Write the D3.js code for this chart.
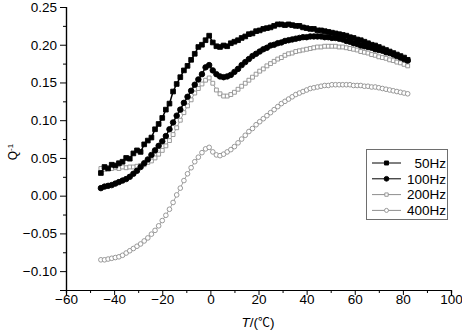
<!DOCTYPE html>
<html><head><meta charset="utf-8">
<script src="https://cdn.jsdelivr.net/npm/d3@7/dist/d3.min.js"></script>
<style>body{margin:0;background:#fff}svg{display:block}text{font-family:"Liberation Sans",Arial,sans-serif}</style>
</head><body><div id="chart"></div>
<script>
const temps = [-45.5,-44,-42.5,-41,-39.5,-38,-36.5,-35,-33.5,-32,-30.5,-29,-27.5,-26,-24.5,-23,-21.5,-20,-18.5,-17,-15.5,-14,-12.5,-11,-9.5,-8,-6.5,-5,-3.5,-2,-0.5,1,2.5,4,5.5,7,8.5,10,11.5,13,14.5,16,17.5,19,20.5,22,23.5,25,26.5,28,29.5,31,32.5,34,35.5,37,38.5,40,41.5,43,44.5,46,47.5,49,50.5,52,53.5,55,56.5,58,59.5,61,62.5,64,65.5,67,68.5,70,71.5,73,74.5,76,77.5,79,80.5,82];
const q50 = [0.030,0.038,0.036,0.041,0.040,0.043,0.045,0.050,0.049,0.056,0.060,0.058,0.068,0.073,0.077,0.088,0.095,0.103,0.114,0.122,0.138,0.148,0.157,0.166,0.172,0.180,0.188,0.197,0.200,0.206,0.212,0.203,0.198,0.197,0.199,0.198,0.202,0.204,0.206,0.209,0.211,0.214,0.215,0.218,0.219,0.221,0.222,0.223,0.225,0.227,0.227,0.226,0.227,0.226,0.225,0.225,0.223,0.222,0.221,0.221,0.219,0.219,0.218,0.217,0.216,0.215,0.214,0.213,0.212,0.210,0.209,0.207,0.206,0.204,0.202,0.200,0.199,0.197,0.195,0.193,0.191,0.189,0.187,0.185,0.183,0.180];
const q100 = [0.010,0.012,0.013,0.014,0.016,0.018,0.020,0.022,0.025,0.029,0.033,0.038,0.043,0.048,0.054,0.060,0.066,0.072,0.079,0.088,0.097,0.106,0.114,0.123,0.131,0.139,0.147,0.154,0.161,0.170,0.173,0.166,0.161,0.158,0.157,0.158,0.160,0.164,0.168,0.173,0.177,0.181,0.185,0.188,0.191,0.194,0.196,0.199,0.200,0.202,0.203,0.205,0.206,0.207,0.208,0.209,0.210,0.210,0.211,0.211,0.211,0.211,0.210,0.210,0.209,0.209,0.208,0.207,0.205,0.204,0.202,0.201,0.199,0.198,0.197,0.196,0.194,0.193,0.192,0.190,0.189,0.187,0.185,0.183,0.181,0.179];
const q200 = [0.036,0.035,0.037,0.036,0.037,0.036,0.038,0.037,0.038,0.038,0.039,0.040,0.041,0.044,0.046,0.050,0.055,0.060,0.066,0.073,0.081,0.090,0.100,0.110,0.119,0.127,0.136,0.142,0.148,0.153,0.156,0.149,0.140,0.135,0.132,0.132,0.134,0.137,0.141,0.145,0.149,0.153,0.157,0.161,0.165,0.168,0.172,0.175,0.178,0.181,0.183,0.186,0.188,0.189,0.191,0.192,0.193,0.194,0.195,0.196,0.197,0.197,0.198,0.198,0.198,0.198,0.197,0.197,0.196,0.195,0.194,0.193,0.191,0.190,0.189,0.187,0.186,0.184,0.183,0.182,0.180,0.179,0.177,0.176,0.174,0.172];
const q400 = [-0.085,-0.085,-0.084,-0.083,-0.082,-0.081,-0.079,-0.076,-0.073,-0.070,-0.067,-0.064,-0.060,-0.056,-0.051,-0.046,-0.040,-0.033,-0.026,-0.018,-0.009,0.001,0.010,0.020,0.029,0.037,0.045,0.051,0.057,0.062,0.064,0.058,0.054,0.053,0.055,0.058,0.061,0.065,0.070,0.075,0.080,0.085,0.089,0.094,0.098,0.102,0.106,0.110,0.114,0.118,0.122,0.125,0.128,0.131,0.134,0.136,0.138,0.140,0.142,0.143,0.144,0.145,0.146,0.146,0.147,0.147,0.147,0.147,0.147,0.147,0.146,0.146,0.146,0.145,0.145,0.144,0.144,0.143,0.142,0.141,0.140,0.139,0.138,0.137,0.136,0.135];
const seriesNames = ["50Hz","100Hz","200Hz","400Hz"];
const xTicks = [-60,-40,-20,0,20,40,60,80,100];
const xMinor = [-50,-30,-10,10,30,50,70,90];
const yTicks = [-0.10,-0.05,0.00,0.05,0.10,0.15,0.20,0.25];
const yMinor = [-0.125,-0.075,-0.025,0.025,0.075,0.125,0.175,0.225];

const W = 462, H = 330;
const svg = d3.select("#chart").append("svg").attr("width", W).attr("height", H);
const x = d3.scaleLinear().domain([-60, 100]).range([66, 451]);
const y = d3.scaleLinear().domain([-0.125, 0.25]).range([290, 7]);

const styles = [
  {shape: d3.symbolSquare, size: 22, fill: "#000", stroke: "#000", line: "#000"},
  {shape: d3.symbolCircle, size: 24, fill: "#000", stroke: "#000", line: "#000"},
  {shape: d3.symbolSquare, size: 15, fill: "#fff", stroke: "#8e8e8e", line: "#8e8e8e"},
  {shape: d3.symbolCircle, size: 17, fill: "#fff", stroke: "#8e8e8e", line: "#8e8e8e"}
];
const allQ = [q50, q100, q200, q400];

// axes
const gx = svg.append("g").attr("transform", "translate(0,290)");
gx.call(d3.axisBottom(x).tickValues(xTicks).tickSize(5).tickFormat(d => d3.format("d")(d)));
gx.append("g").call(d3.axisBottom(x).tickValues(xMinor).tickSize(3).tickFormat(""));
const gy = svg.append("g").attr("transform", "translate(66,0)");
gy.call(d3.axisLeft(y).tickValues(yTicks).tickSize(6).tickPadding(3).tickFormat(d3.format(".2f")));
gy.append("g").call(d3.axisLeft(y).tickValues(yMinor).tickSize(3).tickFormat(""));
svg.selectAll(".domain").attr("stroke", "#000").attr("stroke-width", 1.2);
svg.selectAll(".tick line").attr("stroke", "#000");
gx.selectAll("text").attr("y", 4).attr("dy", "0.71em").style("font-size", "13.5px").attr("fill", "#000");
gy.selectAll("text").style("font-size", "13.5px").attr("fill", "#000");

// series (draw lower first so 50Hz on top)
const order = [3, 2, 1, 0];
order.forEach(si => {
  const st = styles[si];
  const pts = temps.map((t, i) => [t, allQ[si][i]]);
  const g = svg.append("g");
  g.append("path").datum(pts)
    .attr("d", d3.line().x(d => x(d[0])).y(d => y(d[1])))
    .attr("fill", "none").attr("stroke", st.line).attr("stroke-width", si < 2 ? 1.5 : 0.8);
  g.selectAll("path.m").data(pts).join("path").attr("class", "m")
    .attr("transform", d => `translate(${x(d[0])},${y(d[1])})`)
    .attr("d", d3.symbol().type(st.shape).size(st.size))
    .attr("fill", st.fill).attr("stroke", st.stroke).attr("stroke-width", 0.9);
});

// legend
const lg = svg.append("g");
lg.append("rect").attr("x", 366.5).attr("y", 149.5).attr("width", 81).attr("height", 70)
  .attr("fill", "#fff").attr("stroke", "#6e6e6e").attr("stroke-width", 1);
seriesNames.forEach((name, i) => {
  const st = styles[i];
  const cy = 163 + i * 15.8;
  lg.append("line").attr("x1", 372).attr("x2", 401).attr("y1", cy).attr("y2", cy)
    .attr("stroke", st.line).attr("stroke-width", 1);
  lg.append("path").attr("transform", `translate(386.5,${cy})`)
    .attr("d", d3.symbol().type(st.shape).size(st.size * 0.75))
    .attr("fill", st.fill).attr("stroke", st.stroke).attr("stroke-width", 0.9);
  lg.append("text").attr("x", 446).attr("y", cy).attr("dy", "0.36em")
    .attr("text-anchor", "end").style("font-size", "13.5px").text(name);
});

// axis titles
const xt = svg.append("text").attr("x", 258).attr("y", 327).attr("text-anchor", "middle").style("font-size", "13.5px");
xt.append("tspan").style("font-style", "italic").text("T");
xt.append("tspan").text("/(");
xt.append("tspan").style("font-family", "'Noto Sans CJK SC',sans-serif").style("font-size", "12px").text("℃");
xt.append("tspan").text(")");
const yt = svg.append("text").attr("transform", "translate(17,152) rotate(-90)").attr("text-anchor", "middle").style("font-size", "12px");
yt.append("tspan").text("Q");
yt.append("tspan").attr("dy", "-0.45em").style("font-size", "8px").text("-1");
</script></body></html>
